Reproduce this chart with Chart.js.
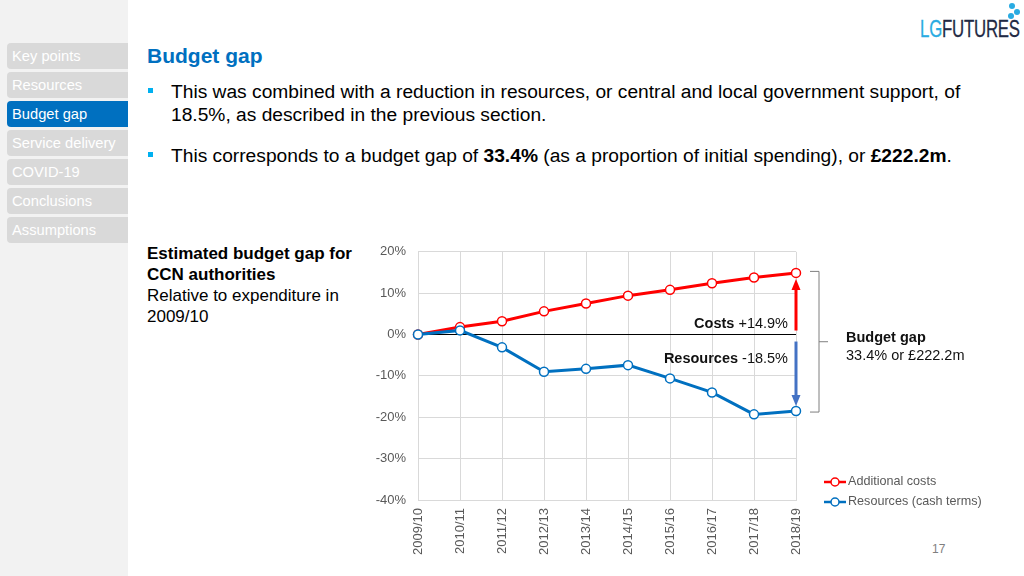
<!DOCTYPE html>
<html>
<head>
<meta charset="utf-8">
<script src="https://cdn.jsdelivr.net/npm/chart.js@4"></script>
<style>
body{margin:0;width:1024px;height:576px;position:relative;overflow:hidden;background:#fff;font-family:"Liberation Sans",Arial,sans-serif;color:#000;}
#side{position:absolute;left:0;top:0;width:128px;height:576px;background:#f2f2f2;}
.nav{position:absolute;left:7px;width:121px;height:26px;background:#d9d9d9;color:#fff;font-size:14.7px;line-height:26px;padding-left:5px;box-sizing:border-box;border-radius:4px 0 0 4px;}
.nav.on{background:#0070c0;}
#title{position:absolute;left:147px;top:44px;font-size:21px;line-height:24px;font-weight:bold;color:#0070c0;}
.bul{position:absolute;left:171px;font-size:19.2px;line-height:23px;white-space:nowrap;}
.sq{position:absolute;left:-23px;top:8px;width:5px;height:5px;background:#00b0f0;}
#lab{position:absolute;left:147px;top:243px;font-size:17px;line-height:21px;}
#logo{position:absolute;left:920px;top:16px;font-size:24px;line-height:26px;transform:scaleX(0.70);transform-origin:left top;color:#1f2a44;letter-spacing:-0.3px;-webkit-text-stroke:0.3px;}
#logo span{color:#29abe2;-webkit-text-stroke:0.3px #29abe2;}
.dot{position:absolute;width:6px;height:6px;border-radius:50%;background:#29abe2;}
#pg{position:absolute;left:932px;top:542px;font-size:12px;line-height:14px;color:#7f7f7f;}
#wrap{position:absolute;left:360px;top:232px;width:664px;height:336px;}
</style>
</head>
<body>
<div id="side">
  <div class="nav" style="top:43px">Key points</div>
  <div class="nav" style="top:72px">Resources</div>
  <div class="nav on" style="top:101px">Budget gap</div>
  <div class="nav" style="top:130px">Service delivery</div>
  <div class="nav" style="top:159px">COVID-19</div>
  <div class="nav" style="top:188px">Conclusions</div>
  <div class="nav" style="top:217px">Assumptions</div>
</div>
<div id="title">Budget gap</div>
<div class="bul" style="top:80px"><div class="sq"></div>This was combined with a reduction in resources, or central and local government support, of<br>18.5%, as described in the previous section.</div>
<div class="bul" style="top:144px"><div class="sq"></div>This corresponds to a budget gap of <b>33.4%</b> (as a proportion of initial spending), or <b>£222.2m</b>.</div>
<div id="lab"><b>Estimated budget gap for<br>CCN authorities</b><br>Relative to expenditure in<br>2009/10</div>
<div id="logo"><span>LG</span>FUTURES</div>
<div class="dot" style="left:1009px;top:3px"></div>
<div class="dot" style="left:1014px;top:9px"></div>
<div class="dot" style="left:1008px;top:13px"></div>
<div id="pg">17</div>
<div id="wrap"><canvas id="chartLine" width="664" height="336"></canvas></div>
<script>
const years = ['2009/10', '2010/11', '2011/12', '2012/13', '2013/14', '2014/15', '2015/16', '2016/17', '2017/18', '2018/19'];
const costs = [0, 1.8, 3.2, 5.6, 7.5, 9.4, 10.8, 12.4, 13.8, 14.9];
const resources = [0, 1.0, -3.1, -9.0, -8.3, -7.4, -10.6, -14.0, -19.3, -18.5];
const seriesNames = ['Additional costs', 'Resources (cash terms)'];
const gapMoney = '£222.2m';

const RED = '#ff0000';
const BLUE = '#0070c0';
const FONT = '"Liberation Sans", Arial, sans-serif';

function arrow(ctx, x, y1, y2, color) {
    const dir = y2 < y1 ? -1 : 1;
    ctx.strokeStyle = color;
    ctx.fillStyle = color;
    ctx.lineWidth = 3;
    ctx.beginPath();
    ctx.moveTo(x, y1);
    ctx.lineTo(x, y2 - dir * 8);
    ctx.stroke();
    ctx.beginPath();
    ctx.moveTo(x, y2);
    ctx.lineTo(x - 4.5, y2 - dir * 11);
    ctx.lineTo(x + 4.5, y2 - dir * 11);
    ctx.closePath();
    ctx.fill();
}

function twoPart(ctx, bold, normal, right, y) {
    ctx.textAlign = 'left';
    ctx.textBaseline = 'middle';
    ctx.font = '14.5px ' + FONT;
    const wn = ctx.measureText(normal).width;
    ctx.font = 'bold 14.5px ' + FONT;
    const wb = ctx.measureText(bold).width;
    ctx.fillText(bold, right - wn - wb, y);
    ctx.font = '14.5px ' + FONT;
    ctx.fillText(normal, right - wn, y);
}

// ### anotações: setas, textos, chave e legenda
const overlay = {
    id: 'overlay',
    afterDatasetsDraw(chart) {
        const ctx = chart.ctx;
        const a = chart.chartArea;
        const x = chart.scales.x;
        const y = chart.scales.y;
        const last = years.length - 1;
        const px = x.getPixelForValue(last);
        const y0 = y.getPixelForValue(0);
        const yc = y.getPixelForValue(costs[last]);
        const yr = y.getPixelForValue(resources[last]);
        ctx.save();
        arrow(ctx, px, y0 - 4, yc + 6, RED);
        arrow(ctx, px, y0 + 7, yr - 5, '#4472c4');

        ctx.fillStyle = '#111';
        twoPart(ctx, 'Costs', ' +' + costs[last].toFixed(1) + '%', px - 8, y0 - 11);
        twoPart(ctx, 'Resources', ' ' + resources[last].toFixed(1) + '%', px - 8, y0 + 24);

        // chave
        const top = yc - 1.5, bot = yr + 1, mid = (top + bot) / 2;
        ctx.strokeStyle = '#7f7f7f';
        ctx.lineWidth = 1;
        ctx.beginPath();
        ctx.moveTo(px + 14, top);
        ctx.lineTo(px + 23, top);
        ctx.lineTo(px + 23, bot);
        ctx.lineTo(px + 14, bot);
        ctx.moveTo(px + 23, mid);
        ctx.lineTo(px + 32, mid);
        ctx.stroke();

        const gap = costs[last] - resources[last];
        ctx.fillStyle = '#111';
        ctx.textAlign = 'left';
        ctx.textBaseline = 'middle';
        ctx.font = 'bold 14.5px ' + FONT;
        ctx.fillText('Budget gap', px + 50, mid - 4);
        ctx.font = '14.5px ' + FONT;
        ctx.fillText(gap.toFixed(1) + '% or ' + gapMoney, px + 50, mid + 14);

        // legenda
        const cols = [RED, BLUE];
        seriesNames.forEach((name, i) => {
            const ly = a.bottom - 18 + i * 20;
            const lx = px + 28;
            ctx.strokeStyle = cols[i];
            ctx.lineWidth = 2.5;
            ctx.beginPath();
            ctx.moveTo(lx, ly);
            ctx.lineTo(lx + 22, ly);
            ctx.stroke();
            ctx.beginPath();
            ctx.arc(lx + 11, ly, 4, 0, Math.PI * 2);
            ctx.fillStyle = '#fff';
            ctx.fill();
            ctx.lineWidth = 1.5;
            ctx.stroke();
            ctx.fillStyle = '#595959';
            ctx.font = '12.6px ' + FONT;
            ctx.fillText(name, lx + 24, ly);
        });
        ctx.restore();
    }
};

function createLine(element) {
    const data = {
        labels: years,
        datasets: [{
            label: seriesNames[0],
            data: costs,
            borderColor: RED,
            backgroundColor: '#fff',
            borderWidth: 3,
            pointRadius: 4.5,
            pointBorderWidth: 1.5,
            pointBackgroundColor: '#fff',
            pointBorderColor: RED,
            tension: 0,
            order: 1
        }, {
            label: seriesNames[1],
            data: resources,
            borderColor: BLUE,
            backgroundColor: '#fff',
            borderWidth: 3,
            pointRadius: 4.5,
            pointBorderWidth: 1.5,
            pointBackgroundColor: '#fff',
            pointBorderColor: BLUE,
            tension: 0,
            order: 0
        }]
    };

    const config = {
        type: 'line',
        data: data,
        options: {
            responsive: false,
            animation: false,
            layout: { padding: { left: 0, right: 228, top: 3, bottom: 0 } },
            plugins: { legend: { display: false }, tooltip: { enabled: false } },
            scales: {
                x: {
                    offset: false,
                    afterFit: s => { s.height = 68; },
                    grid: { color: '#d9d9d9', drawTicks: false },
                    border: { color: '#d9d9d9' },
                    ticks: {
                        autoSkip: false, minRotation: 90, maxRotation: 90, padding: 8,
                        color: '#595959', font: { family: FONT, size: 13 }
                    }
                },
                y: {
                    min: -40, max: 20,
                    afterFit: s => { s.width = 58; },
                    grid: {
                        drawTicks: false,
                        color: c => (c.tick && c.tick.value === 0) ? '#000' : '#d9d9d9'
                    },
                    border: { color: '#d9d9d9' },
                    ticks: {
                        stepSize: 10, padding: 12, color: '#595959',
                        font: { family: FONT, size: 13 },
                        callback: v => v + '%'
                    }
                }
            }
        },
        plugins: [overlay]
    };
    create(element, config);
}

function create(element, config) {
    new Chart(element, config);
}

createLine(document.getElementById('chartLine'));
</script>
</body>
</html>
